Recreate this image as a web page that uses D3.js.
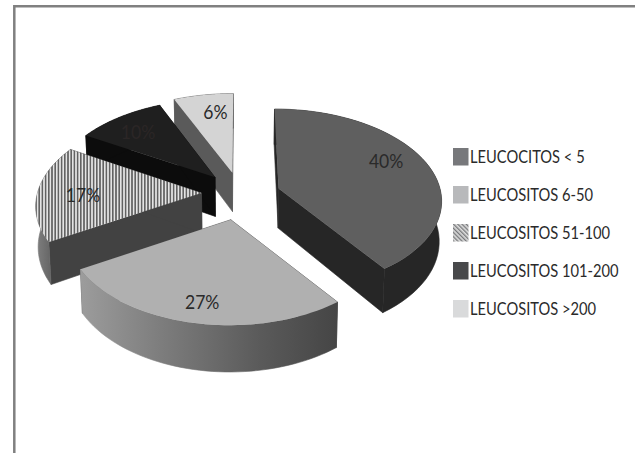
<!DOCTYPE html>
<html><head><meta charset="utf-8">
<script src="https://cdnjs.cloudflare.com/ajax/libs/d3/7.9.0/d3.min.js"></script>
<style>html,body{margin:0;padding:0;background:#fff}svg{display:block}text{font-family:Lato,"Open Sans",sans-serif}</style>
</head><body><svg id="c" width="635" height="453"></svg>
<script>
const categories = ["LEUCOCITOS < 5","LEUCOSITOS 6-50","LEUCOSITOS 51-100","LEUCOSITOS 101-200","LEUCOSITOS >200"];
const values = [39.5,27,17,10,6.5];
const labels = ["40%","27%","17%","10%","6%"];
const topFill = ["#5f5f5f","#b0b0b0","url(#hatch)","#1f1f1f","#d4d4d4"];
const wallFill = ["#262626","#4a4a4a","#424242","#0c0c0c","#5a5a5a"];
const arcFill = ["#262626","url(#g27)","url(#g17)","#0c0c0c","#5a5a5a"];
const legendFill = ["#77787b","#b8b9bb","url(#lhatch)","#48494b","#d9dadb"];
const labelFrac = [0.77,0.82,0.72,0.76,0.75];
const labelAngle = [0.46,0.5,0.47,0.45,0.62];
const explodeBy = [0.25,0.29,0.235,0.235,0.235];
const radiusBy = [0.99,0.96,1,1,1.03];
const shiftY = [0.03,0,0,0,0];
const startTweak = [0,1,0,0,0];
const endTweak = [3,0.5,0,0,0];

const svg = d3.select("#c");
const defs = svg.append("defs");
const hatch = defs.append("pattern").attr("id","hatch").attr("patternUnits","userSpaceOnUse").attr("width",3.2).attr("height",4);
hatch.append("rect").attr("width",3.2).attr("height",4).attr("fill","#e4e4e4");
hatch.append("rect").attr("width",1.6).attr("height",4).attr("fill","#626262");
const lh = defs.append("pattern").attr("id","lhatch").attr("patternUnits","userSpaceOnUse").attr("width",3).attr("height",3).attr("patternTransform","rotate(-45)");
lh.append("rect").attr("width",3).attr("height",3).attr("fill","#dcdcdc");
lh.append("rect").attr("width",1.3).attr("height",3).attr("fill","#77787b");
function grad(id,x1,x2,stops){
  const g=defs.append("linearGradient").attr("id",id).attr("gradientUnits","userSpaceOnUse").attr("x1",x1).attr("x2",x2).attr("y1",0).attr("y2",0);
  stops.forEach(s=>g.append("stop").attr("offset",s[0]).attr("stop-color",s[1]));
}
grad("g27",81,338,[[0,"#9c9c9c"],[0.3,"#7e7e7e"],[0.7,"#5a5a5a"],[1,"#454545"]]);
grad("g17",38,56,[[0,"#7c7c7c"],[1,"#5c5c5c"]]);

// frame
svg.append("path").attr("d","M14.3,453V6.3H635").attr("fill","none").attr("stroke","#808080").attr("stroke-width",2.5);

// perspective projection of the unit disc
const cx=240, cy=193, a=164, b=90.6, c=0.118, depth=42;
const project=(ux,uy,z=0)=>{
  const k=1-c*uy, s=1-z*0.012;
  return [cx+a*ux/k*s, cy+b*uy/k+z*depth/k*0.95];
};
const rad=Math.PI/180;
const arcs=d3.pie().sort(null).value(d=>d)(values);
const pts=(d,i)=>{
  const m=(d.startAngle+d.endAngle)/2, e=explodeBy[i], R=radiusBy[i], ox=e*Math.sin(m), oy=-e*Math.cos(m)+shiftY[i];
  return {at:(ang,r,z)=>project(ox+R*r*Math.sin(ang),oy-R*r*Math.cos(ang),z)};
};
const line=d3.line();
const drawOrder=[4,3,2,0,1];
const g=svg.append("g");
drawOrder.forEach(i=>{
  const d=arcs[i], P=pts(d,i), n=48;
  const a0=d.startAngle+startTweak[i]*rad, a1=d.endAngle+endTweak[i]*rad;
  const angs=d3.range(n+1).map(j=>a0+(a1-a0)*j/n);
  const topArc=angs.map(t=>P.at(t,1,0)), botArc=angs.map(t=>P.at(t,1,1));
  const A0=P.at(0,0,0), A1=P.at(0,0,1);
  const s=g.append("g").attr("class","slice");
  [a0,a1].forEach(t=>{
    s.append("path").attr("d",line([A0,P.at(t,1,0),P.at(t,1,1),A1])+"Z").attr("fill",wallFill[i]).attr("stroke",wallFill[i]).attr("stroke-width",0.6);
  });
  s.append("path").attr("d",line(topArc.concat(botArc.slice().reverse()))+"Z").attr("fill",arcFill[i]).attr("stroke",arcFill[i]).attr("stroke-width",0.6);
  s.append("path").attr("d",line([A0].concat(topArc))+"Z").attr("fill",topFill[i]);
});
// data labels
arcs.forEach((d,i)=>{
  const P=pts(d,i), m=d.startAngle+(d.endAngle-d.startAngle)*labelAngle[i], p=P.at(m,labelFrac[i],0);
  svg.append("text").attr("transform",`translate(${p[0]},${p[1]}) scale(0.9,1)`).attr("dy","0.35em").attr("text-anchor","middle")
    .attr("font-size",19.5).attr("fill",i===3?"#2b2626":"#2a2a2a").text(labels[i]);
});
// legend
const ly=d3.scalePoint().domain(categories).range([157,309]);
const leg=svg.append("g").selectAll("g").data(categories).join("g").attr("transform",d=>`translate(453,${ly(d)})`);
leg.append("rect").attr("y",-9).attr("width",15.5).attr("height",17.5).attr("fill",(d,i)=>legendFill[i]);
leg.append("text").attr("transform","translate(17,0) scale(0.84,1)").attr("dy","0.35em").attr("font-size",17.5).attr("fill","#2a2a2a").text(d=>d);
</script></body></html>
